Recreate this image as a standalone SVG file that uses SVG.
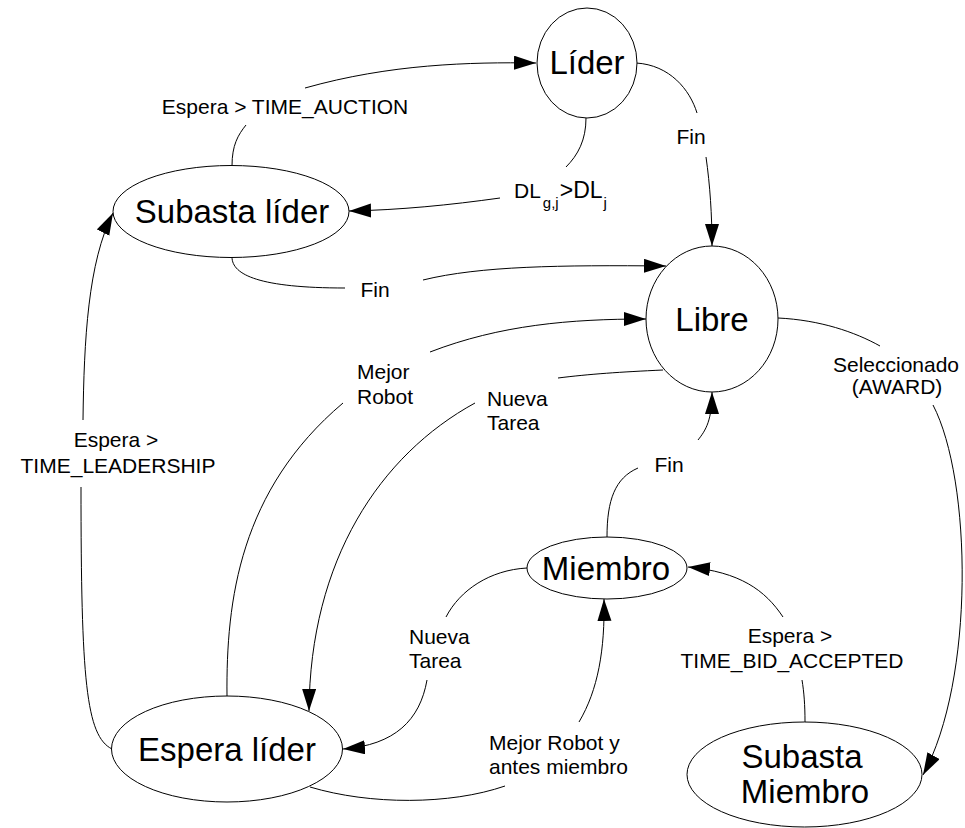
<svg xmlns="http://www.w3.org/2000/svg" width="965" height="828" viewBox="0 0 965 828">
<defs>
<marker id="arr" markerUnits="userSpaceOnUse" markerWidth="24" markerHeight="16" refX="22" refY="7" orient="auto" viewBox="0 0 24 16">
<path d="M0,0 L22,7 L0,14 z" fill="#000"/>
</marker>
<style>
.node ellipse{fill:#fff;stroke:#000;stroke-width:1}
.st{font-family:"Liberation Sans",Arial,sans-serif;font-size:33px;fill:#000;text-anchor:middle}
.lb{font-family:"Liberation Sans",Arial,sans-serif;font-size:21px;fill:#000}
.c{text-anchor:middle}
#edges path{fill:none;stroke:#000;stroke-width:1}
#edges path.a{marker-end:url(#arr)}
</style>
</defs>
<rect width="965" height="828" fill="#fff"/>
<g id="edges">
<path d="M232,166 C232,145 238,135 246,125"/>
<path class="a" d="M305,88 C390,64 470,62 536,63"/>
<path d="M586,118 C586,140 578,155 566,167"/>
<path class="a" d="M500,198 C450,205 400,210 349,211"/>
<path d="M636,63 C670,65 690,90 697,113"/>
<path class="a" d="M706,157 C710,185 712,215 712,246"/>
<path d="M232,257 C232,275 260,288 345,288"/>
<path class="a" d="M423,280 C480,266 560,265 666,266"/>
<path d="M227,696 C226,600 240,490 343,403"/>
<path class="a" d="M430,352 C500,325 570,319 646,319"/>
<path d="M663,370 C620,372 590,374 558,378"/>
<path class="a" d="M475,403 C380,455 310,560 309,711"/>
<path d="M112,749 C86,736 81,680 81,487"/>
<path class="a" d="M83,420 C84,340 88,262 113,213"/>
<path d="M778,318 C820,320 855,332 880,346"/>
<path class="a" d="M933,405 C972,480 975,680 923,775"/>
<path d="M607,537 C607,500 615,478 638,468"/>
<path class="a" d="M698,440 C706,430 712,420 712,392"/>
<path d="M805,722 C805,705 804,692 802,680"/>
<path class="a" d="M783,617 C765,590 740,572 688,567"/>
<path d="M527,568 C490,570 460,590 446,617"/>
<path class="a" d="M427,680 C420,720 395,745 343,749"/>
<path d="M310,787 C370,805 450,805 505,786"/>
<path class="a" d="M579,722 C598,690 605,650 604,599"/>
</g>
<g id="lider" class="node"><ellipse cx="587" cy="63" rx="50" ry="55"/><text class="st" x="587" y="74">Líder</text></g>
<g id="subasta-lider" class="node"><ellipse cx="231" cy="211.5" rx="118" ry="46"/><text class="st" x="232" y="223">Subasta líder</text></g>
<g id="libre" class="node"><ellipse cx="712" cy="319" rx="66" ry="73"/><text class="st" x="712" y="331">Libre</text></g>
<g id="miembro" class="node"><ellipse cx="607" cy="568" rx="80" ry="31"/><text class="st" x="606" y="580">Miembro</text></g>
<g id="espera-lider" class="node"><ellipse cx="227" cy="749" rx="115.5" ry="53"/><text class="st" x="227" y="761">Espera líder</text></g>
<g id="subasta-miembro" class="node"><ellipse cx="804.5" cy="774.5" rx="117.5" ry="52.5"/><text class="st" x="802" y="768">Subasta</text><text class="st" x="805" y="803">Miembro</text></g>
<g id="labels">
<text class="lb c" x="285" y="114">Espera &gt; TIME_AUCTION</text>
<text class="lb" x="514" y="198" font-size="23">DL<tspan dx="2" dy="10" font-size="15">g,j</tspan><tspan dx="1" dy="-10" font-size="23">&gt;DL</tspan><tspan dx="1" dy="10" font-size="15">j</tspan></text>
<text class="lb c" x="691" y="144">Fin</text>
<text class="lb c" x="375" y="297">Fin</text>
<text class="lb" x="357" y="379">Mejor</text>
<text class="lb" x="357" y="404">Robot</text>
<text class="lb" x="487" y="406">Nueva</text>
<text class="lb" x="487" y="430">Tarea</text>
<text class="lb c" x="116" y="447">Espera &gt;</text>
<text class="lb c" x="118" y="473">TIME_LEADERSHIP</text>
<text class="lb c" x="896" y="372">Seleccionado</text>
<text class="lb c" x="897" y="394">(AWARD)</text>
<text class="lb c" x="669" y="472">Fin</text>
<text class="lb c" x="790" y="643">Espera &gt;</text>
<text class="lb c" x="792" y="668">TIME_BID_ACCEPTED</text>
<text class="lb" x="409" y="644">Nueva</text>
<text class="lb" x="409" y="668">Tarea</text>
<text class="lb" x="489" y="750">Mejor Robot y</text>
<text class="lb" x="489" y="774">antes miembro</text>
</g>
</svg>
